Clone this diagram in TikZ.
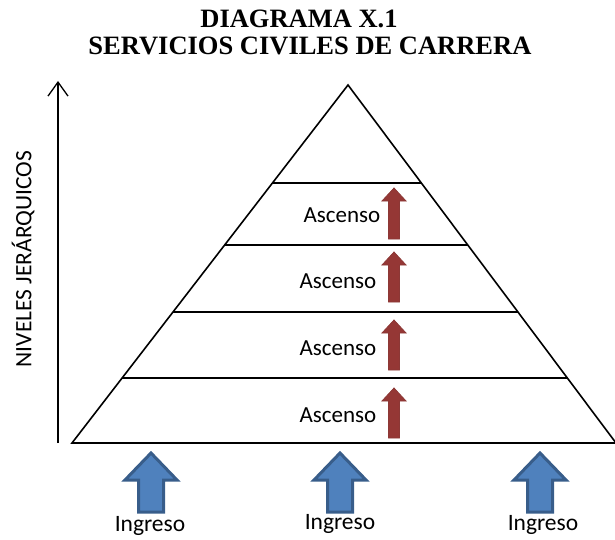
\documentclass[tikz,border=0pt]{standalone}
\usepackage{fontspec}
\setmainfont{Carlito}
\newfontfamily\titlefont{Liberation Serif}
\usetikzlibrary{arrows.meta}
\definecolor{ascred}{HTML}{953735}
\definecolor{ascredd}{HTML}{8C3836}
\definecolor{ingblue}{HTML}{4F81BD}
\definecolor{ingblued}{HTML}{385D8A}
\newcommand\ascarrow[3]{% x, ytop, ybot
  \path[ascstyle] (#1-12,#2+13) -- (#1,#2) -- (#1+12,#2+13) -- (#1+5.5,#2+13) -- (#1+5.5,#3) -- (#1-5.5,#3) -- (#1-5.5,#2+13) -- cycle;}
\newcommand\ingarrow[3]{% x, ytop, ybot
  \path[ingstyle] (#1-26,#2+27) -- (#1,#2) -- (#1+26,#2+27) -- (#1+12.5,#2+27) -- (#1+12.5,#3) -- (#1-12.5,#3) -- (#1-12.5,#2+27) -- cycle;}
\begin{document}
\begin{tikzpicture}[x=1pt,y=-1pt,
  line/.style={draw=black,line width=1.6pt},
  ascstyle/.style={fill=ascred,draw=ascredd,line width=0.8pt,line join=miter},
  ingstyle/.style={fill=ingblue,draw=ingblued,line width=3pt,line join=miter},
  asclabel/.style={font=\fontsize{23}{27}\selectfont,inner sep=0pt},
  inglabel/.style={font=\fontsize{23.5}{28}\selectfont,inner sep=0pt},
  titlelabel/.style={font=\titlefont\bfseries\fontsize{26.5}{30}\selectfont,inner sep=0pt,align=center}]
\useasboundingbox (0,0) rectangle (615,540);
% title
\node[titlelabel] (t1) at (299,19) {DIAGRAMA X.1};
\node[titlelabel] (t2) at (310,46) {SERVICIOS CIVILES DE CARRERA};
% pyramid
\coordinate (apex) at (348,85);
\coordinate (bl) at (72,443);
\coordinate (br) at (616,443);
\draw[line,line join=miter] (apex) -- (bl) -- (br) -- cycle;
\foreach \y/\n in {183/a,245/b,312/c,378/d}{
  \path (apex) -- (bl) coordinate[pos={(\y-85)/358}] (L\n);
  \path (apex) -- (br) coordinate[pos={(\y-85)/358}] (R\n);
  \draw[line] (L\n) -- (R\n);
}
% ascenso
\foreach \yt/\yb/\yl/\xl/\n in {188/239/215/342/1,252/302/281/338/2,320/370/348/338/3,388/438/415/338/4}{
  \ascarrow{394}{\yt}{\yb}
  \node[asclabel] (asc\n) at (\xl,\yl) {Ascenso};
}
% ingreso
\foreach \x/\n in {151/1,340/2,540/3}{
  \ingarrow{\x}{453}{512}
}
\node[inglabel] (ing1) at (150,526) {Ingreso};
\node[inglabel] (ing2) at (340,524) {Ingreso};
\node[inglabel] (ing3) at (543,525) {Ingreso};
% axis
\coordinate (ax0) at (58,443);
\coordinate (ax1) at (58,81);
\draw[line width=1.3pt,-{Straight Barb[length=14pt,width=20pt,line width=1.3pt]}] (ax0) -- (ax1);
\node[inglabel,rotate=90] (axlab) at (23,259) {NIVELES JERÁRQUICOS};
\end{tikzpicture}
\end{document}
